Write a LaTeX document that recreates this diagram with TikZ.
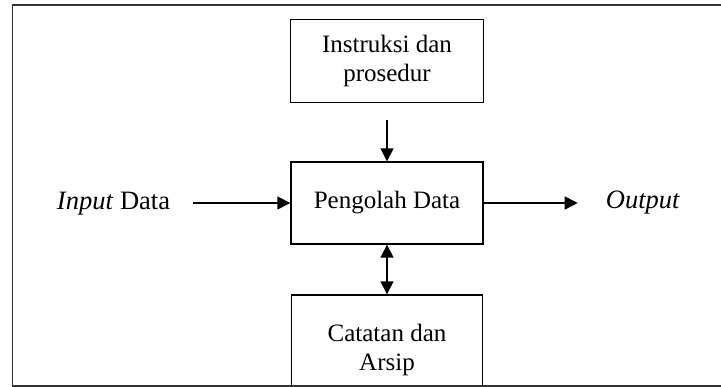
\documentclass[tikz,border=0pt]{standalone}
\usepackage{fontspec}
\setmainfont{Liberation Serif}
\usetikzlibrary{arrows.meta}
\begin{document}
\begin{tikzpicture}[x=1pt,y=-1pt,
  every node/.style={font=\fontsize{25}{29.5}\selectfont},
  box/.style={draw, line width=1.4pt, align=center, inner sep=0pt},
  label/.style={inner sep=0pt, font=\fontsize{26.5}{30}\selectfont},
  arr/.style={line width=1.6pt, -{Triangle[length=13pt,width=13pt]}},
  darr/.style={line width=1.6pt, {Triangle[length=13pt,width=13pt]}-{Triangle[length=13pt,width=13pt]}}]
  \useasboundingbox (0,0) rectangle (721,387);
  % outer frame (right side runs past the page edge)
  \draw[line width=1.6pt, black!80] (12.5,5) rectangle (740,386);
  % blocks
  \node[box, minimum width=193pt, minimum height=82.5pt] (instr) at (387,61) {Instruksi dan\\prosedur};
  \node[box, minimum width=192pt, minimum height=82pt] (proc) at (387,203) {Pengolah Data};
  \node[box, minimum width=191pt, minimum height=110pt] (arsip) at (387,350) {Catatan dan\\Arsip};
  % side labels
  \node[label] (inp) at (113.5,204) {\textit{Input} Data};
  \node[label] (out) at (643,203) {\textit{Output}};
  % connectors
  \draw[arr] ([yshift=-17pt]instr.south) -- (proc.north);
  \draw[darr] (proc.south) -- (arsip.north);
  \draw[arr] ([xshift=23pt]inp.east |- proc.west) -- (proc.west);
  \draw[arr] (proc.east) -- ([xshift=-28pt]out.west |- proc.east);
\end{tikzpicture}
\end{document}
